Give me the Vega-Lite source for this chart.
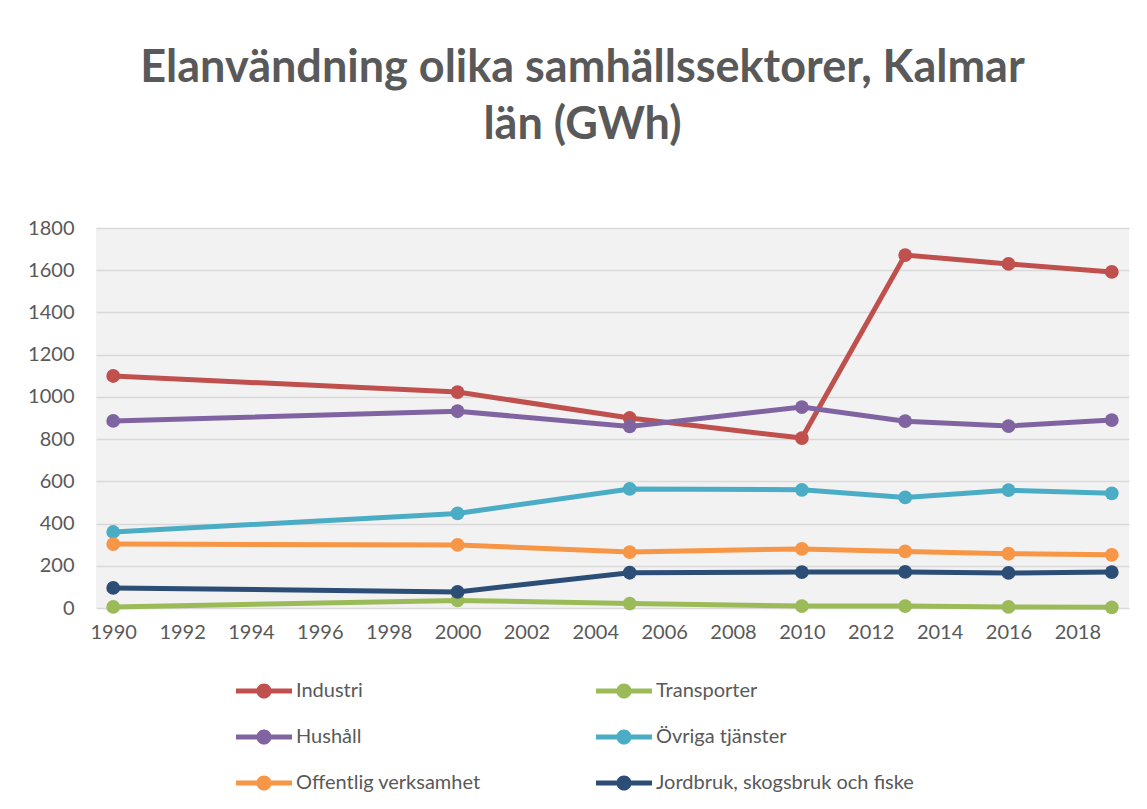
{
  "$schema": "https://vega.github.io/schema/vega-lite/v6.json",
  "autosize": "none",
  "width": 1033,
  "height": 380,
  "padding": {"left": 96, "top": 228, "right": 18, "bottom": 201},
  "background": "white",
  "title": {
    "text": ["Elanvändning olika samhällssektorer, Kalmar", "län (GWh)"],
    "font": "Lato",
    "fontSize": 45,
    "fontWeight": "bold",
    "color": "#595959",
    "anchor": "middle",
    "dx": -30,
    "offset": 70,
    "lineHeight": 57
  },
  "config": {
    "view": {"fill": "#F2F2F2", "stroke": null},
    "axis": {
      "labelFont": "Lato",
      "labelFontSize": 20,
      "labelColor": "#595959",
      "gridColor": "#D9D9D9",
      "gridWidth": 1.5,
      "domain": false,
      "ticks": false,
      "title": null
    }
  },
  "data": {
    "values": [
      {"year": 1990, "sector": "Industri", "value": 1099},
      {"year": 2000, "sector": "Industri", "value": 1023},
      {"year": 2005, "sector": "Industri", "value": 900},
      {"year": 2010, "sector": "Industri", "value": 805},
      {"year": 2013, "sector": "Industri", "value": 1672},
      {"year": 2016, "sector": "Industri", "value": 1630},
      {"year": 2019, "sector": "Industri", "value": 1592},
      {"year": 1990, "sector": "Transporter", "value": 5},
      {"year": 2000, "sector": "Transporter", "value": 36},
      {"year": 2005, "sector": "Transporter", "value": 21},
      {"year": 2010, "sector": "Transporter", "value": 9},
      {"year": 2013, "sector": "Transporter", "value": 9},
      {"year": 2016, "sector": "Transporter", "value": 5},
      {"year": 2019, "sector": "Transporter", "value": 3},
      {"year": 1990, "sector": "Hushåll", "value": 886},
      {"year": 2000, "sector": "Hushåll", "value": 932},
      {"year": 2005, "sector": "Hushåll", "value": 860},
      {"year": 2010, "sector": "Hushåll", "value": 952},
      {"year": 2013, "sector": "Hushåll", "value": 885},
      {"year": 2016, "sector": "Hushåll", "value": 862},
      {"year": 2019, "sector": "Hushåll", "value": 890},
      {"year": 1990, "sector": "Övriga tjänster", "value": 360},
      {"year": 2000, "sector": "Övriga tjänster", "value": 448},
      {"year": 2005, "sector": "Övriga tjänster", "value": 564},
      {"year": 2010, "sector": "Övriga tjänster", "value": 560},
      {"year": 2013, "sector": "Övriga tjänster", "value": 524},
      {"year": 2016, "sector": "Övriga tjänster", "value": 558},
      {"year": 2019, "sector": "Övriga tjänster", "value": 543},
      {"year": 1990, "sector": "Offentlig verksamhet", "value": 303},
      {"year": 2000, "sector": "Offentlig verksamhet", "value": 299},
      {"year": 2005, "sector": "Offentlig verksamhet", "value": 265},
      {"year": 2010, "sector": "Offentlig verksamhet", "value": 280},
      {"year": 2013, "sector": "Offentlig verksamhet", "value": 268},
      {"year": 2016, "sector": "Offentlig verksamhet", "value": 257},
      {"year": 2019, "sector": "Offentlig verksamhet", "value": 252},
      {"year": 1990, "sector": "Jordbruk, skogsbruk och fiske", "value": 95},
      {"year": 2000, "sector": "Jordbruk, skogsbruk och fiske", "value": 76},
      {"year": 2005, "sector": "Jordbruk, skogsbruk och fiske", "value": 167},
      {"year": 2010, "sector": "Jordbruk, skogsbruk och fiske", "value": 170},
      {"year": 2013, "sector": "Jordbruk, skogsbruk och fiske", "value": 171},
      {"year": 2016, "sector": "Jordbruk, skogsbruk och fiske", "value": 166},
      {"year": 2019, "sector": "Jordbruk, skogsbruk och fiske", "value": 170}
    ]
  },
  "mark": {
    "type": "line",
    "strokeWidth": 5,
    "point": {"filled": true, "size": 190, "opacity": 1}
  },
  "encoding": {
    "x": {
      "field": "year",
      "type": "quantitative",
      "scale": {"domain": [1989.5, 2019.5], "nice": false, "zero": false},
      "axis": {
        "values": [1990, 1992, 1994, 1996, 1998, 2000, 2002, 2004, 2006, 2008, 2010, 2012, 2014, 2016, 2018],
        "format": "d",
        "grid": false,
        "labelPadding": 14
      }
    },
    "y": {
      "field": "value",
      "type": "quantitative",
      "scale": {"domain": [0, 1800], "nice": false},
      "axis": {
        "values": [0, 200, 400, 600, 800, 1000, 1200, 1400, 1600, 1800],
        "format": "d",
        "labelPadding": 22
      }
    },
    "color": {
      "field": "sector",
      "type": "nominal",
      "scale": {
        "domain": ["Industri", "Hushåll", "Offentlig verksamhet", "Transporter", "Övriga tjänster", "Jordbruk, skogsbruk och fiske"],
        "range": ["#C0504D", "#8064A2", "#F79646", "#9BBB59", "#4BACC6", "#2C4D75"]
      },
      "legend": {
        "title": null,
        "orient": "none",
        "legendX": 140,
        "legendY": 435,
        "columns": 2,
        "columnPadding": 115,
        "rowPadding": 8,
        "symbolType": "M-1,-0.09H1V0.09H-1Z M-0.27,0A0.27,0.27 0 1,1 0.27,0A0.27,0.27 0 1,1 -0.27,0Z",
        "symbolSize": 3136,
        "symbolStrokeWidth": 0,
        "labelFont": "Lato",
        "labelFontSize": 20,
        "labelColor": "#595959",
        "labelOffset": 4,
        "labelLimit": 400,
        "encode": {
          "symbols": {"update": {"fill": {"scale": "color", "field": "value"}, "opacity": {"value": 1}}}
        }
      }
    },
    "order": {"field": "year", "type": "quantitative"}
  }
}
